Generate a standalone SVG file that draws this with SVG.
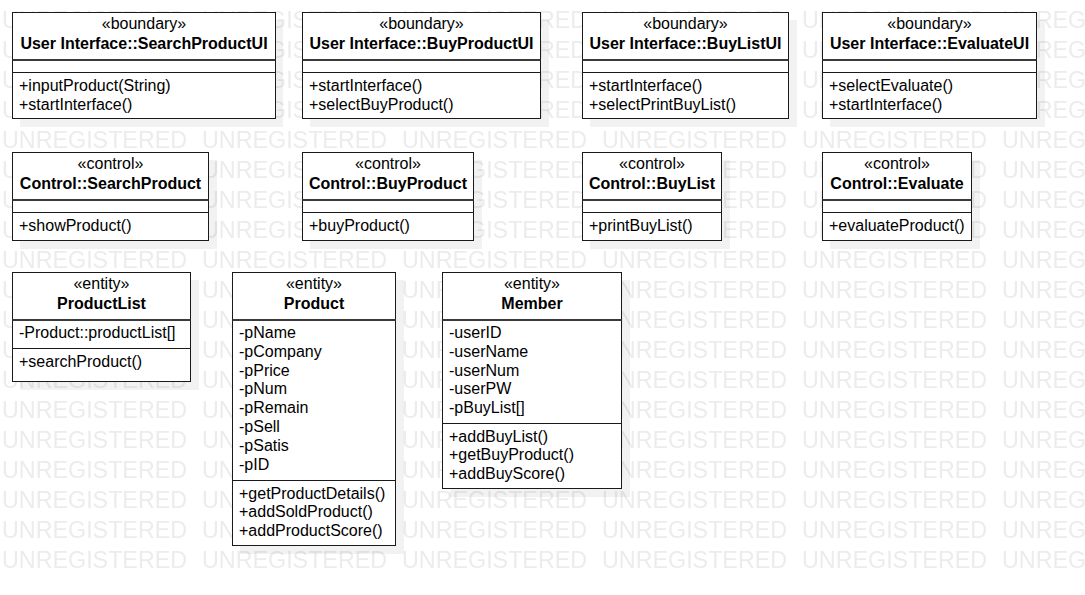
<svg xmlns="http://www.w3.org/2000/svg" width="1085" height="595" viewBox="0 0 1085 595">
<style>
  .wm { font-family: "Liberation Sans", Arial, sans-serif; font-size: 23.3px; fill: #ececec; }
  .box { fill: #ffffff; stroke: #1a1a1a; stroke-width: 1; }
  .sh { fill: #000000; fill-opacity: 0.05; }
  .d1 { stroke: #3a3a3a; stroke-width: 2; }
  .d2 { stroke: #1a1a1a; stroke-width: 1; }
  .st { font-family: "Liberation Sans", Arial, sans-serif; font-size: 16px; fill: #000; text-anchor: middle; }
  .nm { font-family: "Liberation Sans", Arial, sans-serif; font-size: 16px; font-weight: bold; fill: #000; text-anchor: middle; }
  .tx { font-family: "Liberation Sans", Arial, sans-serif; font-size: 16px; fill: #000; }
</style>
<defs>
  <pattern id="wmp" x="0" y="0" width="200" height="30" patternUnits="userSpaceOnUse">
    <text class="wm" x="2" y="28.3">UNREGISTERED</text>
  </pattern>
</defs>
<rect x="0" y="0" width="1085" height="595" fill="#ffffff"/>
<rect x="0" y="0" width="1085" height="574" fill="url(#wmp)"/>

<g id="connectors"></g>

<!-- Row 1: boundary classes -->
<g id="SearchProductUI">
  <rect class="sh" x="20" y="20" width="263" height="107"/>
  <rect class="box" x="12.5" y="12.5" width="263" height="106"/>
  <line class="d1" x1="12.5" y1="60" x2="275.5" y2="60"/>
  <line class="d2" x1="12.5" y1="72.5" x2="275.5" y2="72.5"/>
  <text class="st" x="144" y="29">«boundary»</text>
  <text class="nm" x="144" y="48.5">User Interface::SearchProductUI</text>
  <text class="tx" x="19" y="91">+inputProduct(String)</text>
  <text class="tx" x="19" y="109.8">+startInterface()</text>
</g>
<g id="BuyProductUI">
  <rect class="sh" x="310" y="20" width="239" height="107"/>
  <rect class="box" x="302.5" y="12.5" width="238" height="106"/>
  <line class="d1" x1="302.5" y1="60" x2="540.5" y2="60"/>
  <line class="d2" x1="302.5" y1="72.5" x2="540.5" y2="72.5"/>
  <text class="st" x="421.5" y="29">«boundary»</text>
  <text class="nm" x="421.5" y="48.5">User Interface::BuyProductUI</text>
  <text class="tx" x="309" y="91">+startInterface()</text>
  <text class="tx" x="309" y="109.8">+selectBuyProduct()</text>
</g>
<g id="BuyListUI">
  <rect class="sh" x="590" y="20" width="207" height="107"/>
  <rect class="box" x="582.5" y="12.5" width="206" height="106"/>
  <line class="d1" x1="582.5" y1="60" x2="788.5" y2="60"/>
  <line class="d2" x1="582.5" y1="72.5" x2="788.5" y2="72.5"/>
  <text class="st" x="685.5" y="29">«boundary»</text>
  <text class="nm" x="685.5" y="48.5">User Interface::BuyListUI</text>
  <text class="tx" x="589" y="91">+startInterface()</text>
  <text class="tx" x="589" y="109.8">+selectPrintBuyList()</text>
</g>
<g id="EvaluateUI">
  <rect class="sh" x="830" y="20" width="215" height="107"/>
  <rect class="box" x="822.5" y="12.5" width="214" height="106"/>
  <line class="d1" x1="822.5" y1="60" x2="1036.5" y2="60"/>
  <line class="d2" x1="822.5" y1="72.5" x2="1036.5" y2="72.5"/>
  <text class="st" x="929.5" y="29">«boundary»</text>
  <text class="nm" x="929.5" y="48.5">User Interface::EvaluateUI</text>
  <text class="tx" x="829" y="91">+selectEvaluate()</text>
  <text class="tx" x="829" y="109.8">+startInterface()</text>
</g>

<!-- Row 2: control classes -->
<g id="SearchProduct">
  <rect class="sh" x="20" y="160" width="197" height="89"/>
  <rect class="box" x="12.5" y="152.5" width="196" height="88"/>
  <line class="d1" x1="12.5" y1="200" x2="208.5" y2="200"/>
  <line class="d2" x1="12.5" y1="212.5" x2="208.5" y2="212.5"/>
  <text class="st" x="110.5" y="169">«control»</text>
  <text class="nm" x="110.5" y="188.5">Control::SearchProduct</text>
  <text class="tx" x="19" y="231">+showProduct()</text>
</g>
<g id="BuyProduct">
  <rect class="sh" x="310" y="160" width="172" height="89"/>
  <rect class="box" x="302.5" y="152.5" width="171" height="88"/>
  <line class="d1" x1="302.5" y1="200" x2="473.5" y2="200"/>
  <line class="d2" x1="302.5" y1="212.5" x2="473.5" y2="212.5"/>
  <text class="st" x="388" y="169">«control»</text>
  <text class="nm" x="388" y="188.5">Control::BuyProduct</text>
  <text class="tx" x="309" y="231">+buyProduct()</text>
</g>
<g id="BuyList">
  <rect class="sh" x="590" y="160" width="140" height="89"/>
  <rect class="box" x="582.5" y="152.5" width="139" height="88"/>
  <line class="d1" x1="582.5" y1="200" x2="721.5" y2="200"/>
  <line class="d2" x1="582.5" y1="212.5" x2="721.5" y2="212.5"/>
  <text class="st" x="652" y="169">«control»</text>
  <text class="nm" x="652" y="188.5">Control::BuyList</text>
  <text class="tx" x="589" y="231">+printBuyList()</text>
</g>
<g id="Evaluate">
  <rect class="sh" x="830" y="160" width="150" height="89"/>
  <rect class="box" x="822.5" y="152.5" width="149" height="88"/>
  <line class="d1" x1="822.5" y1="200" x2="971.5" y2="200"/>
  <line class="d2" x1="822.5" y1="212.5" x2="971.5" y2="212.5"/>
  <text class="st" x="897" y="169">«control»</text>
  <text class="nm" x="897" y="188.5">Control::Evaluate</text>
  <text class="tx" x="829" y="231">+evaluateProduct()</text>
</g>

<!-- Row 3: entity classes -->
<g id="ProductList">
  <rect class="sh" x="20" y="280" width="179" height="110"/>
  <rect class="box" x="12.5" y="272.5" width="178" height="109"/>
  <line class="d1" x1="12.5" y1="320" x2="190.5" y2="320"/>
  <line class="d2" x1="12.5" y1="348.5" x2="190.5" y2="348.5"/>
  <text class="st" x="101.5" y="289">«entity»</text>
  <text class="nm" x="101.5" y="308.5">ProductList</text>
  <text class="tx" x="19" y="338">-Product::productList[]</text>
  <text class="tx" x="19" y="367">+searchProduct()</text>
</g>
<g id="Product">
  <rect class="sh" x="240" y="280" width="164" height="274"/>
  <rect class="box" x="232.5" y="272.5" width="163" height="273"/>
  <line class="d1" x1="232.5" y1="320" x2="395.5" y2="320"/>
  <line class="d2" x1="232.5" y1="480.5" x2="395.5" y2="480.5"/>
  <text class="st" x="314" y="289">«entity»</text>
  <text class="nm" x="314" y="308.5">Product</text>
  <text class="tx" x="239" y="338">-pName</text>
  <text class="tx" x="239" y="356.8">-pCompany</text>
  <text class="tx" x="239" y="375.6">-pPrice</text>
  <text class="tx" x="239" y="394.4">-pNum</text>
  <text class="tx" x="239" y="413.2">-pRemain</text>
  <text class="tx" x="239" y="432">-pSell</text>
  <text class="tx" x="239" y="450.8">-pSatis</text>
  <text class="tx" x="239" y="469.6">-pID</text>
  <text class="tx" x="239" y="498.5">+getProductDetails()</text>
  <text class="tx" x="239" y="517.3">+addSoldProduct()</text>
  <text class="tx" x="239" y="536.1">+addProductScore()</text>
</g>
<g id="Member">
  <rect class="sh" x="450" y="280" width="180" height="217"/>
  <rect class="box" x="442.5" y="272.5" width="179" height="216"/>
  <line class="d1" x1="442.5" y1="320" x2="621.5" y2="320"/>
  <line class="d2" x1="442.5" y1="423.5" x2="621.5" y2="423.5"/>
  <text class="st" x="532" y="289">«entity»</text>
  <text class="nm" x="532" y="308.5">Member</text>
  <text class="tx" x="449" y="338">-userID</text>
  <text class="tx" x="449" y="356.8">-userName</text>
  <text class="tx" x="449" y="375.6">-userNum</text>
  <text class="tx" x="449" y="394.4">-userPW</text>
  <text class="tx" x="449" y="413.2">-pBuyList[]</text>
  <text class="tx" x="449" y="441.5">+addBuyList()</text>
  <text class="tx" x="449" y="460.3">+getBuyProduct()</text>
  <text class="tx" x="449" y="479.1">+addBuyScore()</text>
</g>
</svg>
